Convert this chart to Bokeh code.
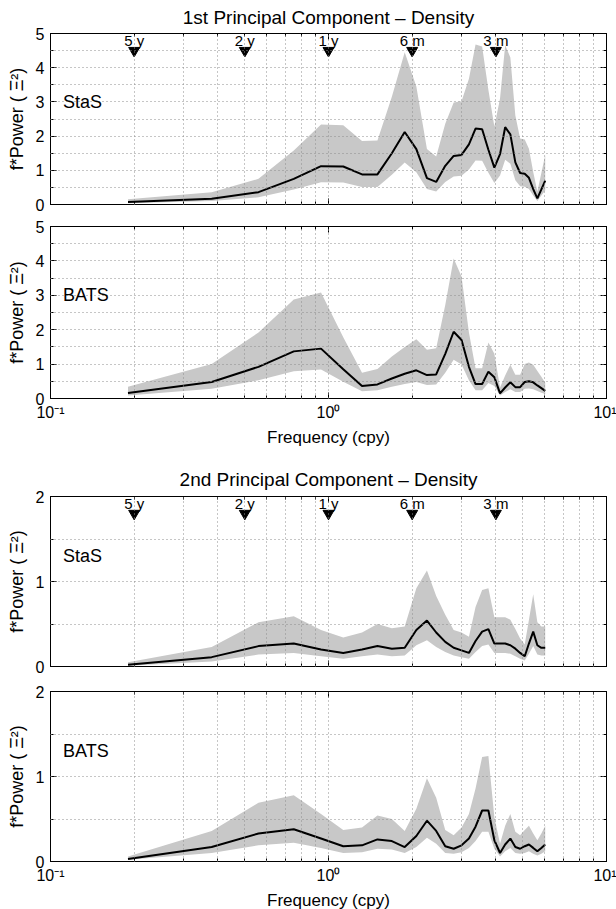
from bokeh.plotting import figure
from bokeh.models import FixedTicker, LinearAxis, LogAxis, Range1d, Label
from bokeh.layouts import column
from bokeh.embed import file_html
from bokeh.resources import INLINE
from bokeh.core.properties import value

FONT = "Liberation Sans"

# frequency (cpy)
freq = [0.19, 0.38, 0.56, 0.75, 0.94, 1.13, 1.32, 1.50, 1.69, 1.88, 2.07, 2.26,
        2.44, 2.63, 2.82, 3.01, 3.20, 3.38, 3.57, 3.76, 3.95, 4.14, 4.32, 4.51,
        4.70, 4.89, 5.08, 5.26, 5.45, 5.64, 5.83, 6.02]

# 1st principal component - StaS
pc1_stas_mean = [0.07, 0.17, 0.36, 0.75, 1.12, 1.11, 0.88, 0.88, 1.50, 2.12, 1.62, 0.77,
                 0.66, 1.13, 1.42, 1.45, 1.76, 2.22, 2.20, 1.60, 1.08, 1.47, 2.26, 2.05,
                 1.23, 0.92, 0.90, 0.78, 0.45, 0.18, 0.44, 0.70]
pc1_stas_high = [0.15, 0.36, 0.75, 1.58, 2.34, 2.32, 1.86, 1.87, 3.15, 4.45, 3.45, 1.62,
                 1.40, 2.36, 2.98, 3.02, 3.68, 4.68, 4.62, 3.35, 2.28, 3.10, 4.66, 4.30,
                 2.60, 1.93, 1.90, 1.63, 0.95, 0.38, 0.92, 1.45]
pc1_stas_low = [0.04, 0.10, 0.21, 0.44, 0.65, 0.64, 0.51, 0.51, 0.87, 1.23, 0.94, 0.45,
                0.38, 0.66, 0.82, 0.84, 1.02, 1.29, 1.28, 0.93, 0.63, 0.85, 1.31, 1.19,
                0.71, 0.53, 0.52, 0.45, 0.26, 0.10, 0.26, 0.41]

# 1st principal component - BATS
pc1_bats_mean = [0.16, 0.48, 0.92, 1.37, 1.45, 0.85, 0.36, 0.41, 0.58, 0.72, 0.82, 0.68,
                 0.70, 1.30, 1.94, 1.70, 0.92, 0.42, 0.42, 0.78, 0.62, 0.15, 0.32, 0.47,
                 0.33, 0.33, 0.48, 0.50, 0.47, 0.38, 0.30, 0.22]
pc1_bats_high = [0.34, 1.00, 1.92, 2.88, 3.08, 1.78, 0.75, 0.86, 1.22, 1.50, 1.72, 1.42,
                 1.46, 2.72, 4.07, 3.55, 1.92, 0.88, 0.88, 1.63, 1.30, 0.32, 0.67, 0.98,
                 0.69, 0.69, 1.00, 1.05, 0.98, 0.80, 0.63, 0.46]
pc1_bats_low = [0.09, 0.28, 0.53, 0.79, 0.84, 0.49, 0.21, 0.24, 0.34, 0.42, 0.48, 0.39,
                0.41, 0.75, 1.13, 0.99, 0.53, 0.24, 0.24, 0.45, 0.36, 0.09, 0.19, 0.27,
                0.19, 0.19, 0.28, 0.29, 0.27, 0.22, 0.17, 0.13]

# 2nd principal component - StaS
pc2_stas_mean = [0.02, 0.11, 0.24, 0.27, 0.20, 0.16, 0.20, 0.24, 0.21, 0.22, 0.43, 0.54,
                 0.40, 0.29, 0.22, 0.19, 0.16, 0.30, 0.41, 0.44, 0.27, 0.27, 0.27, 0.25,
                 0.21, 0.16, 0.12, 0.27, 0.41, 0.25, 0.22, 0.22]
pc2_stas_high = [0.05, 0.23, 0.52, 0.59, 0.43, 0.34, 0.40, 0.50, 0.45, 0.47, 0.92, 1.13,
                 0.83, 0.61, 0.43, 0.40, 0.35, 0.70, 0.90, 0.92, 0.58, 0.58, 0.58, 0.55,
                 0.44, 0.33, 0.26, 0.55, 0.85, 0.52, 0.47, 0.47]
pc2_stas_low = [0.01, 0.06, 0.14, 0.16, 0.12, 0.09, 0.12, 0.14, 0.12, 0.13, 0.25, 0.31,
                0.23, 0.17, 0.13, 0.11, 0.09, 0.17, 0.24, 0.26, 0.16, 0.16, 0.16, 0.15,
                0.12, 0.09, 0.07, 0.15, 0.24, 0.14, 0.13, 0.13]

# 2nd principal component - BATS
pc2_bats_mean = [0.03, 0.17, 0.33, 0.38, 0.27, 0.18, 0.19, 0.26, 0.24, 0.17, 0.30, 0.48,
                 0.36, 0.18, 0.15, 0.19, 0.27, 0.41, 0.60, 0.60, 0.25, 0.10, 0.20, 0.27,
                 0.17, 0.15, 0.18, 0.20, 0.16, 0.12, 0.16, 0.20]
pc2_bats_high = [0.06, 0.36, 0.69, 0.78, 0.56, 0.37, 0.40, 0.54, 0.50, 0.36, 0.62, 0.98,
                 0.75, 0.37, 0.31, 0.40, 0.56, 0.86, 1.23, 1.24, 0.52, 0.21, 0.42, 0.56,
                 0.35, 0.31, 0.37, 0.42, 0.33, 0.25, 0.33, 0.42]
pc2_bats_low = [0.02, 0.10, 0.19, 0.22, 0.16, 0.10, 0.11, 0.15, 0.14, 0.10, 0.17, 0.28,
                0.21, 0.10, 0.09, 0.11, 0.16, 0.24, 0.35, 0.35, 0.15, 0.06, 0.12, 0.16,
                0.10, 0.09, 0.10, 0.12, 0.09, 0.07, 0.09, 0.12]

# period markers
marker_freq = [0.2, 0.5, 1.0, 2.0, 4.0]
marker_labels = ["5 y", "2 y", "1 y", "6 m", "3 m"]

x_major = [0.1, 1.0, 10.0]
x_minor = [0.2, 0.3, 0.4, 0.5, 0.6, 0.7, 0.8, 0.9, 2, 3, 4, 5, 6, 7, 8, 9]
x_labels = {0.1: "10⁻¹", 1.0: "10⁰", 10.0: "10¹"}

y5_major = [0, 1, 2, 3, 4, 5]
y5_minor = [0.5, 1.5, 2.5, 3.5, 4.5]
y2_major = [0, 1, 2]
y2_minor = [0.5, 1.5]

GRID = "#8c8c8c"
BAND = "#c8c8c8"


def hide_labels(ax):
    ax.major_label_text_font_size = "1px"
    ax.major_label_text_alpha = 0
    ax.major_label_standoff = 0


def style_axis(ax):
    ax.major_tick_in = 6
    ax.major_tick_out = 0
    ax.minor_tick_in = 3
    ax.minor_tick_out = 0
    ax.axis_line_color = "black"
    ax.major_tick_line_color = "black"
    ax.minor_tick_line_color = "black"
    ax.major_label_text_font = FONT
    ax.major_label_text_font_size = "16px"
    ax.major_label_text_color = "black"
    ax.axis_label_text_font = FONT
    ax.axis_label_text_font_size = "17px"
    ax.axis_label_text_font_style = "normal"
    ax.axis_label_text_color = "black"


def panel(mean, low, high, ymax, ymaj, ymin, name, name_y, frame_h, top, bottom,
          title=None, title_standoff=10, title_valign="bottom", xlabels=False,
          marker_y=None):
    p = figure(x_axis_type="log", frame_width=556, frame_height=frame_h,
               min_border_left=50, min_border_right=10,
               min_border_top=top, min_border_bottom=bottom,
               output_backend="svg", toolbar_location=None)
    p.x_range = Range1d(0.1, 10)
    p.y_range = Range1d(0, ymax)
    xt = FixedTicker(ticks=x_major, minor_ticks=x_minor)
    yt = FixedTicker(ticks=ymaj, minor_ticks=ymin)
    p.xaxis[0].ticker = xt
    p.yaxis[0].ticker = yt
    p.xgrid[0].ticker = xt
    p.ygrid[0].ticker = yt
    for g in p.grid:
        g.grid_line_color = GRID
        g.grid_line_dash = "1 3"
        g.minor_grid_line_color = GRID
        g.minor_grid_line_dash = "1 3"
        g.level = "guide"
    p.outline_line_color = "black"
    p.background_fill_color = "white"
    p.border_fill_color = "white"

    style_axis(p.xaxis[0])
    style_axis(p.yaxis[0])
    p.yaxis[0].axis_label = "f*Power ( Ξ²)"
    p.yaxis[0].axis_label_text_font_size = "18px"
    p.yaxis[0].major_label_standoff = 6
    p.yaxis[0].axis_label_standoff = 6
    if xlabels:
        p.xaxis[0].major_label_overrides = x_labels
        p.xaxis[0].axis_label = "Frequency (cpy)"
        p.xaxis[0].major_label_standoff = 5
        p.xaxis[0].axis_label_standoff = 4
    else:
        hide_labels(p.xaxis[0])

    # box ticks on top and right
    top_ax = LogAxis(ticker=xt)
    right_ax = LinearAxis(ticker=yt)
    style_axis(top_ax)
    style_axis(right_ax)
    hide_labels(top_ax)
    hide_labels(right_ax)
    p.add_layout(top_ax, "above")
    p.add_layout(right_ax, "right")

    if title:
        p.title.text = title
        p.title.align = "center"
        p.title.vertical_align = title_valign
        p.title.text_font = FONT
        p.title.text_font_size = "19px"
        p.title.text_font_style = "normal"
        p.title.text_color = "black"
        p.title.standoff = title_standoff

    p.varea(x=freq, y1=low, y2=high, fill_color=BAND)
    p.line(freq, mean, line_color="black", line_width=2)

    p.add_layout(Label(x=0.111, y=name_y, text=name, text_baseline="middle",
                       text_font=FONT, text_font_size="18px", text_color="black"))

    if marker_y is not None:
        my, ty = marker_y
        p.scatter(marker_freq, [my] * len(marker_freq), marker="inverted_triangle",
                  size=11, color="black")
        p.text(x=marker_freq, y=[ty] * len(marker_freq), text=marker_labels,
               text_align="center", text_baseline="bottom",
               text_font=value(FONT), text_font_size="15px", text_color="black")
    return p


f1 = panel(pc1_stas_mean, pc1_stas_low, pc1_stas_high, 5, y5_major, y5_minor,
           "StaS", 3.0, 171, 33, 11, title="1st Principal Component – Density",
           title_standoff=8, title_valign="top", marker_y=(4.5, 4.55))
f2 = panel(pc1_bats_mean, pc1_bats_low, pc1_bats_high, 5, y5_major, y5_minor,
           "BATS", 3.0, 172, 11, 47, xlabels=True)
f3 = panel(pc2_stas_mean, pc2_stas_low, pc2_stas_high, 2, y2_major, y2_minor,
           "StaS", 1.3, 170, 47, 12, title="2nd Principal Component – Density",
           title_standoff=13, marker_y=(1.8, 1.82))
f4 = panel(pc2_bats_mean, pc2_bats_low, pc2_bats_high, 2, y2_major, y2_minor,
           "BATS", 1.3, 170, 13, 52, xlabels=True)

layout = column(f1, f2, f3, f4, spacing=0)
open("out.html", "w").write(file_html(layout, INLINE))
